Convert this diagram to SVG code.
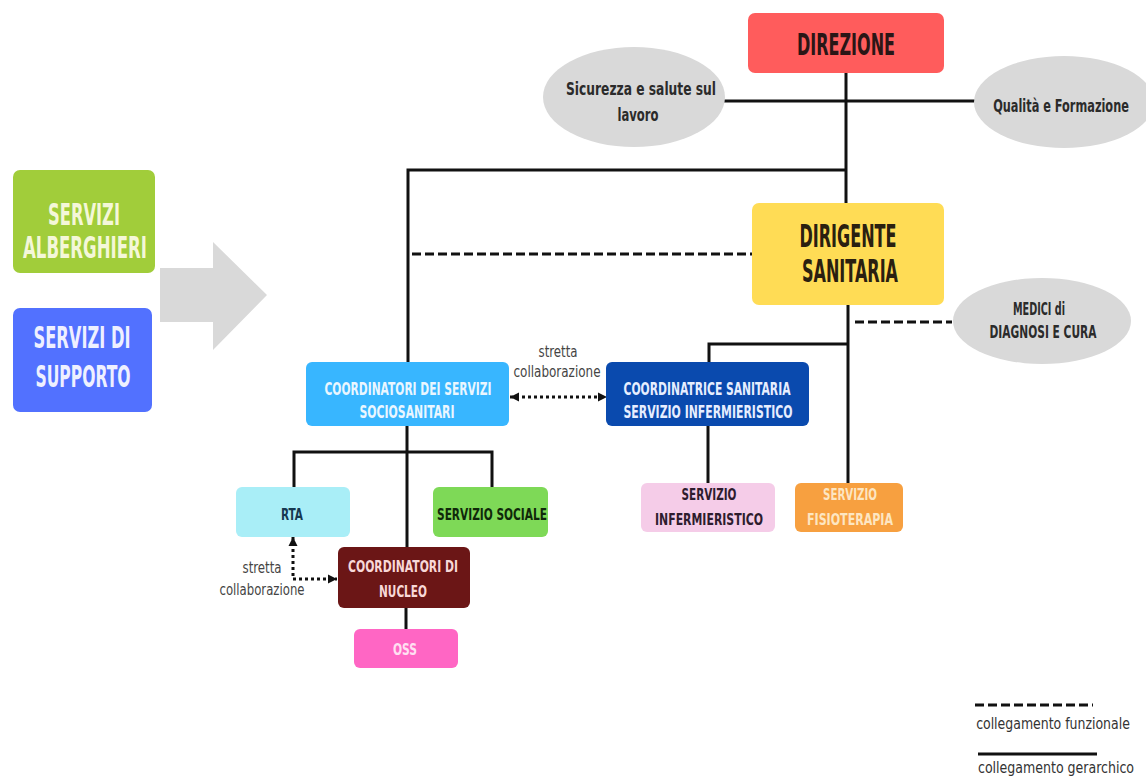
<svg xmlns="http://www.w3.org/2000/svg" width="1146" height="780" viewBox="0 0 1146 780">
<defs>
<style>
.t{font-family:"DejaVu Sans Condensed","DejaVu Sans","Liberation Sans",sans-serif;font-stretch:condensed;font-weight:bold;text-anchor:middle}
.n{font-weight:normal}
.ln{stroke:#111;stroke-width:3;fill:none}
.dash{stroke:#111;stroke-width:3;fill:none;stroke-dasharray:9 4}
.dot{stroke:#111;stroke-width:3;fill:none;stroke-dasharray:3 3}
.ell{fill:#d9d9d9}
</style>
<marker id="ah" viewBox="0 0 10 10" refX="10" refY="5" markerWidth="9" markerHeight="10" markerUnits="userSpaceOnUse" orient="auto-start-reverse">
<path d="M0,0 L10,5 L0,10 z" fill="#111"/>
</marker>
</defs>
<rect width="1146" height="780" fill="#ffffff"/>

<g id="connectors">
<line class="ln" x1="846" y1="73" x2="846" y2="203"/>
<line class="ln" x1="724" y1="101" x2="976" y2="101"/>
<polyline class="ln" points="847,170 408,170 408,362"/>
<line class="dash" x1="412" y1="254" x2="752" y2="254"/>
<line class="ln" x1="848" y1="305" x2="848" y2="483"/>
<line class="dash" x1="855" y1="322" x2="952" y2="322"/>
<polyline class="ln" points="848,344 709,344 709,362"/>
<line class="ln" x1="708" y1="426" x2="708" y2="483"/>
<line class="dot" x1="510" y1="397" x2="607" y2="397" marker-start="url(#ah)" marker-end="url(#ah)"/>
<line class="ln" x1="407" y1="426" x2="407" y2="547"/>
<polyline class="ln" points="294,487 294,452 492,452 492,487"/>
<line class="ln" x1="406" y1="608" x2="406" y2="629"/>
<polyline class="dot" points="293,537 293,579 337,579" marker-start="url(#ah)" marker-end="url(#ah)"/>
</g>

<g id="arrow-big">
<polygon points="160,268 213,268 213,242 267,295 213,350 213,322 160,322" fill="#d9d9d9"/>
</g>

<g id="direzione">
<rect x="748" y="13" width="196" height="60" rx="7" fill="#ff5c5c"/>
<text class="t" x="846" y="55" font-size="30" fill="#2a1616" textLength="98" lengthAdjust="spacingAndGlyphs">DIREZIONE</text>
</g>

<g id="sicurezza">
<ellipse class="ell" cx="634" cy="97" rx="91" ry="50"/>
<text class="t" x="641" y="95" font-size="18" fill="#2b2b2b" textLength="150" lengthAdjust="spacingAndGlyphs">Sicurezza e salute sul</text>
<text class="t" x="638" y="121" font-size="18" fill="#2b2b2b" textLength="41" lengthAdjust="spacingAndGlyphs">lavoro</text>
</g>

<g id="qualita">
<ellipse class="ell" cx="1064" cy="102" rx="90" ry="46"/>
<text class="t" transform="translate(1061,112) scale(0.75,1)" x="0" y="0" font-size="18" fill="#2b2b2b" textLength="181" lengthAdjust="spacingAndGlyphs">Qualità e Formazione</text>
</g>

<g id="dirigente">
<rect x="752" y="203" width="192" height="102" rx="7" fill="#ffdc55"/>
<text class="t" x="848" y="247" font-size="32" fill="#2a2010" textLength="97" lengthAdjust="spacingAndGlyphs">DIRIGENTE</text>
<text class="t" x="850" y="282" font-size="32" fill="#2a2010" textLength="96" lengthAdjust="spacingAndGlyphs">SANITARIA</text>
</g>

<g id="medici">
<ellipse class="ell" cx="1042" cy="321" rx="89" ry="43"/>
<text class="t" x="1039" y="315" font-size="17" fill="#2b2b2b" textLength="52" lengthAdjust="spacingAndGlyphs">MEDICI di</text>
<text class="t" x="1043" y="338" font-size="17" fill="#2b2b2b" textLength="107" lengthAdjust="spacingAndGlyphs">DIAGNOSI E CURA</text>
</g>

<g id="servizi-alberghieri">
<rect x="13" y="170" width="142" height="103" rx="7" fill="#a1cd3a"/>
<text class="t" x="84" y="225" font-size="30" fill="#f4f7d8" textLength="72" lengthAdjust="spacingAndGlyphs">SERVIZI</text>
<text class="t" x="85" y="258" font-size="30" fill="#f4f7d8" textLength="124" lengthAdjust="spacingAndGlyphs">ALBERGHIERI</text>
</g>

<g id="servizi-supporto">
<rect x="13" y="308" width="139" height="104" rx="7" fill="#5271ff"/>
<text class="t" x="82" y="348" font-size="30" fill="#eef0ff" textLength="97" lengthAdjust="spacingAndGlyphs">SERVIZI DI</text>
<text class="t" x="83" y="387" font-size="30" fill="#eef0ff" textLength="95" lengthAdjust="spacingAndGlyphs">SUPPORTO</text>
</g>

<g id="coord-sociosanitari">
<rect x="306" y="362" width="203" height="64" rx="6" fill="#38b6ff"/>
<text class="t" x="408" y="395" font-size="17" fill="#eaf6ff" textLength="167" lengthAdjust="spacingAndGlyphs">COORDINATORI DEI SERVIZI</text>
<text class="t" x="407" y="418" font-size="17" fill="#eaf6ff" textLength="95" lengthAdjust="spacingAndGlyphs">SOCIOSANITARI</text>
</g>

<g id="label-stretta-1">
<text class="t n" x="558" y="357" font-size="16" fill="#444" textLength="39" lengthAdjust="spacingAndGlyphs">stretta</text>
<text class="t n" x="557" y="377" font-size="16" fill="#444" textLength="87" lengthAdjust="spacingAndGlyphs">collaborazione</text>
</g>

<g id="coord-sanitaria">
<rect x="606" y="362" width="203" height="64" rx="6" fill="#0a4aae"/>
<text class="t" x="707" y="395" font-size="17" fill="#e6eeff" textLength="167" lengthAdjust="spacingAndGlyphs">COORDINATRICE SANITARIA</text>
<text class="t" x="708" y="418" font-size="17" fill="#e6eeff" textLength="169" lengthAdjust="spacingAndGlyphs">SERVIZIO INFERMIERISTICO</text>
</g>

<g id="rta">
<rect x="236" y="487" width="114" height="50" rx="6" fill="#a9eef7"/>
<text class="t" x="292" y="520" font-size="16" fill="#163850" textLength="22" lengthAdjust="spacingAndGlyphs">RTA</text>
</g>

<g id="servizio-sociale">
<rect x="433" y="487" width="115" height="50" rx="6" fill="#7ed957"/>
<text class="t" x="492" y="520" font-size="16" fill="#10280a" textLength="110" lengthAdjust="spacingAndGlyphs">SERVIZIO SOCIALE</text>
</g>

<g id="servizio-infermieristico">
<rect x="641" y="483" width="134" height="49" rx="6" fill="#f5cce8"/>
<text class="t" x="709" y="500" font-size="16" fill="#2e1c2e" textLength="55" lengthAdjust="spacingAndGlyphs">SERVIZIO</text>
<text class="t" x="709" y="525" font-size="16" fill="#2e1c2e" textLength="108" lengthAdjust="spacingAndGlyphs">INFERMIERISTICO</text>
</g>

<g id="servizio-fisioterapia">
<rect x="795" y="483" width="108" height="49" rx="6" fill="#f7a040"/>
<text class="t" x="850" y="500" font-size="16" fill="#fde6c2" textLength="54" lengthAdjust="spacingAndGlyphs">SERVIZIO</text>
<text class="t" x="850" y="525" font-size="16" fill="#fde6c2" textLength="86" lengthAdjust="spacingAndGlyphs">FISIOTERAPIA</text>
</g>

<g id="coord-nucleo">
<rect x="338" y="547" width="132" height="61" rx="6" fill="#6b1616"/>
<text class="t" x="403" y="572" font-size="16" fill="#f8d8d8" textLength="110" lengthAdjust="spacingAndGlyphs">COORDINATORI DI</text>
<text class="t" x="403" y="597" font-size="16" fill="#f8d8d8" textLength="48" lengthAdjust="spacingAndGlyphs">NUCLEO</text>
</g>

<g id="label-stretta-2">
<text class="t n" x="262" y="573" font-size="16" fill="#444" textLength="39" lengthAdjust="spacingAndGlyphs">stretta</text>
<text class="t n" x="262" y="595" font-size="16" fill="#444" textLength="85" lengthAdjust="spacingAndGlyphs">collaborazione</text>
</g>

<g id="oss">
<rect x="354" y="629" width="104" height="39" rx="6" fill="#ff66c4"/>
<text class="t" x="405" y="655" font-size="16" fill="#ffe0f2" textLength="24" lengthAdjust="spacingAndGlyphs">OSS</text>
</g>

<g id="legend">
<line class="dash" x1="975" y1="705" x2="1093" y2="705"/>
<text class="t n" transform="translate(1053,729) scale(0.75,1)" x="0" y="0" font-size="16" fill="#333" textLength="205" lengthAdjust="spacingAndGlyphs">collegamento funzionale</text>
<line class="ln" x1="978" y1="754" x2="1097" y2="754"/>
<text class="t n" transform="translate(1056,773) scale(0.75,1)" x="0" y="0" font-size="16" fill="#333" textLength="208" lengthAdjust="spacingAndGlyphs">collegamento gerarchico</text>
</g>
</svg>
